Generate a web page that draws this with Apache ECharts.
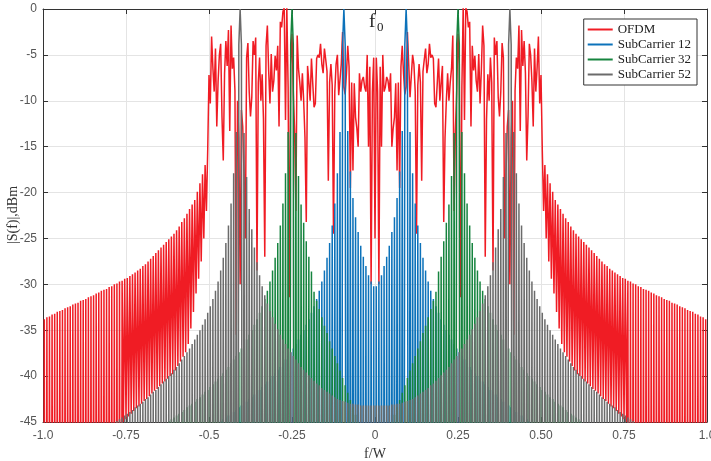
<!DOCTYPE html>
<html>
<head>
<meta charset="utf-8">
<title>OFDM spectrum</title>
<script src="https://cdn.jsdelivr.net/npm/echarts@6.0.0/dist/echarts.min.js"></script>
<style>
  html, body { margin: 0; padding: 0; background: #fff; }
  #chart { width: 711px; height: 461px; }
</style>
</head>
<body>
<div id="chart"></div>
<script>
// Level used for nulls and lobes that fall far below the -45 dBm floor.
const D = -120;

// Frequency grid: 1/256 of W per sample over the left half (f = -1 .. 0);
// the spectrum of the real signal is even, so the right half mirrors it.
const xTickLabels = ['-1.0', '-0.75', '-0.5', '-0.25', '0', '0.25', '0.50', '0.75', '1.0'];
const seriesNames = ['OFDM', 'SubCarrier 12', 'SubCarrier 32', 'SubCarrier 52'];
const subcarrierBins = [12, 32, 52];

// OFDM skirt outside the band (f = -1 .. -0.5): lobe tops and the samples between them.
const ofdmSkirtPeaks = [
  -33.8, -33.6, -33.5, -33.3, -33.2, -33.0, -32.9, -32.8, -32.6, -32.5,
  -32.4, -32.2, -32.1, -32.0, -31.8, -31.7, -31.6, -31.4, -31.3, -31.2,
  -31.0, -30.9, -30.7, -30.6, -30.5, -30.3, -30.2, -30.0, -29.9, -29.7,
  -29.6, -29.4, -29.3, -29.1, -28.9, -28.7, -28.5, -28.3, -28.0, -27.8,
  -27.5, -27.2, -26.9, -26.6, -26.3, -26.0, -25.7, -25.4, -25.1, -24.8,
  -24.5, -24.1, -23.7, -23.2, -22.8, -22.3, -21.8, -21.3, -20.8, -19.9,
  -19.0, -18.0, -17.0, -15.4
];
const ofdmSkirtNulls = [
  D, D, D, D, D, D, D, D, D, D, D, D, D, D, D, D, D, D, D, D,
  D, D, D, D, D, D, D, D, D, D, D,
  -45.0, -44.7, -44.4, -44.1, -43.8, -43.5, -43.3, -43.0, -42.7, -42.5,
  -42.2, -41.9, -41.6, -41.4, -41.1, -40.8, -40.6, -40.3, -40.0, -39.8,
  -39.4, -38.9, -38.4, -37.9, -37.4, -36.5, -34.8, -33.0, -31.0, -29.4,
  -27.5, -25.0, -22.0
];
// OFDM inside the band, f = -0.5 .. 0.
const ofdmBand = [
  -7.2, -10.3, -3.0, -6.4, -9.0, -4.3, -12.8, -7.9, -5.0, -3.8,
  -11.7, -16.5, -7.0, -3.5, -6.2, -2.3, -13.3, -1.8, -6.5, -5.3,
  -8.9, -35.5, -10.0, -14.0, -30.0, -11.0, -12.8, -18.0, -25.0, -5.3,
  -3.7, -9.0, -11.7, -9.6, -3.5, -5.0, -3.1, -28.5, -8.0, -5.3,
  -10.0, -7.1, -12.0, -27.0, -4.0, -1.8, -6.7, -10.3, -4.9, -9.0,
  -7.8, -5.1, -6.7, -4.0, -12.8, -1.4, -2.0, -0.3, 0.2, -12.1,
  0.3, -8.5, -31.4, -6.0, -2.7, -9.0, -13.2, -22.0, -2.9, -6.5,
  -8.0, -10.0, -7.0, -10.0, -14.0, -23.2, -6.2, -8.0, -10.0, -5.4,
  -8.1, -10.7, -10.3, -5.4, -5.0, -5.3, -3.8, -6.0, -7.0, -4.3,
  -5.5, -6.8, -18.7, -8.0, -6.0, -8.3, -24.5, -9.0, -6.0, -5.0,
  -9.4, -9.6, -6.0, -2.5, -8.5, -9.3, -7.0, -4.0, -6.3, -19.5,
  -8.0, -17.6, -8.1, -11.8, -13.0, -15.0, -7.0, -9.0, -7.8, -7.4,
  -8.5, -9.0, -5.0, -15.0, -6.3, -30.0, -9.0, -5.3, -25.0
];

// Lobe tops of each subcarrier, one per 1/128 from f = -1 to 0.
const sc12Lobes = [
  D, D, D, D, D, D, D, D, D, D, D, D, D, D, D, D, D, D, D, D,
  D, D, D, D, D, D, D, D, D, D, D, D, D, D, D, D, D, D, D, D,
  D, D, D, D, D, D, D, D, D, D, D, D, D, D, D, D, D, D, D, D,
  D, D, D, D, D,
  -45.5, -45.3, -45.1, -44.9, -44.7, -44.5, -44.3, -44.1, -43.9, -43.7,
  -43.4, -43.2, -43.0, -42.8, -42.5, -42.3, -42.0, -41.7, -41.5, -41.2,
  -40.9, -40.6, -40.3, -40.0, -39.7, -39.3, -39.0, -38.6, -38.2, -37.8,
  -37.4, -37.0, -36.5, -36.0, -35.5, -35.0, -34.4, -33.8, -33.1, -32.4,
  -31.6, -30.7, -29.7, -28.5, -27.1, -25.5, -23.6, -21.2, -17.9, -13.4,
  -3.9, -3.9,
  -13.3, -17.7, -20.6, -22.7, -24.3, -25.8, -27.0, -28.0, -29.0, -29.7, -30.2
];
const sc32Lobes = [
  D, D, D, D, D, D, D, D, D, D, D, D, D, D, D, D, D, D, D, D,
  D, D, D, D, D, D, D, D, D, D, D, D, D, D, D, D, D, D, D, D,
  D, D, D, D, D,
  -45.5, -45.3, -45.1, -44.9, -44.7, -44.5, -44.3, -44.1, -43.9, -43.7,
  -43.4, -43.2, -43.0, -42.8, -42.5, -42.3, -42.0, -41.7, -41.5, -41.2,
  -40.9, -40.6, -40.3, -40.0, -39.7, -39.3, -39.0, -38.6, -38.2, -37.8,
  -37.4, -37.0, -36.5, -36.0, -35.5, -35.0, -34.4, -33.8, -33.1, -32.4,
  -31.6, -30.7, -29.7, -28.5, -27.1, -25.5, -23.6, -21.2, -17.9, -13.4,
  -3.9, -3.9,
  -13.5, -18.2, -21.3, -23.3, -25.3, -27.0, -28.6, -30.8, -31.8, -32.7,
  -33.6, -34.5, -35.3, -36.2, -37.0, -37.8, -38.6, -39.4, -40.2, -41.0,
  -41.8, -42.6, -43.4, -44.2, -45.0, -45.8, -46.6, -47.5, -48.5, -50.0, -52.0
];
const sc52Lobes = [
  D, D, D, D, D, D, D, D, D, D, D, D, D, D, D, D, D, D, D, D,
  D, D, D, D, D,
  -45.5, -45.3, -45.1, -44.9, -44.7, -44.5, -44.3, -44.1, -43.9, -43.7,
  -43.4, -43.2, -43.0, -42.8, -42.5, -42.3, -42.0, -41.7, -41.5, -41.2,
  -40.9, -40.6, -40.3, -40.0, -39.7, -39.3, -39.0, -38.6, -38.2, -37.8,
  -37.4, -37.0, -36.5, -36.0, -35.5, -35.0, -34.4, -33.8, -33.1, -32.4,
  -31.6, -30.7, -29.7, -28.5, -27.1, -25.5, -23.6, -21.2, -17.9, -13.4,
  -3.9, -3.9,
  -13.5, -18.3, -21.8, -24.0, -26.0, -27.6, -29.0, -30.2, -31.2, -32.1,
  -32.9, -33.6, -34.3, -34.9, -35.5, -36.0, -36.5, -37.0, -37.4, -37.8,
  -38.2, -38.6, -39.0, -39.3, -39.6, -39.9, -40.2, -40.5, -40.8, -41.0,
  -41.3, -41.5, -41.7, -41.9, -42.1, -42.3, -42.5, -42.6, -42.7, -42.8,
  -42.9, -43.0, -43.0, -43.1, -43.1, -43.2, -43.2, -43.2, -43.2, -43.2, -43.2
];

// Build [f, dB] pairs over the left half, then reflect them onto f > 0.
function mirror(left) {
  const right = left.slice(0, -1).reverse().map(([f, v]) => [-f, v]);
  return left.concat(right);
}
function ofdmPoints() {
  const left = [];
  for (let k = 0; k <= 256; k++) {
    let v;
    if (k < 128) v = (k % 2) ? ofdmSkirtPeaks[(k - 1) / 2] : ofdmSkirtNulls[k / 2];
    else v = ofdmBand[k - 128];
    left.push([-1 + k / 256, v]);
  }
  return mirror(left);
}
function subcarrierPoints(lobes, bin) {
  const mainK = 256 - 2 * bin;
  const left = [];
  for (let k = 0; k <= 256; k++) {
    let v;
    if (k % 2) v = lobes[(k - 1) / 2];
    else v = (k === mainK) ? 0 : D;
    left.push([-1 + k / 256, v]);
  }
  return mirror(left);
}

const colors = ['#f01c24', '#0c72ba', '#16843f', '#6b6b6b'];
const lobeSets = [sc12Lobes, sc32Lobes, sc52Lobes];
const dataSets = [ofdmPoints()].concat(lobeSets.map((l, i) => subcarrierPoints(l, subcarrierBins[i])));

const sans = 'Arial, "Liberation Sans", Helvetica, sans-serif';
const serif = '"Times New Roman", "Liberation Serif", serif';
const axisColor = '#333333';

const chart = echarts.init(document.getElementById('chart'), null, { renderer: 'canvas' });
chart.setOption({
  animation: false,
  backgroundColor: '#ffffff',
  grid: { left: 43, right: 4, top: 9, bottom: 39, containLabel: false, outerBoundsMode: 'none' },
  legend: {
    data: seriesNames,
    orient: 'vertical',
    right: 14,
    top: 19,
    icon: 'rect',
    itemWidth: 25,
    itemHeight: 2,
    itemGap: 2,
    padding: [4, 6, 4, 4],
    borderColor: axisColor,
    borderWidth: 1,
    borderRadius: 0,
    backgroundColor: '#ffffff',
    textStyle: { fontFamily: serif, fontSize: 13, color: '#222', lineHeight: 13 }
  },
  xAxis: [
    {
      type: 'value', min: -1, max: 1, interval: 0.25,
      name: 'f/W', nameLocation: 'middle', nameGap: 23,
      nameTextStyle: { fontFamily: serif, fontSize: 14, color: '#333' },
      axisLine: { show: true, onZero: false, lineStyle: { color: axisColor, width: 1 } },
      axisTick: { show: true, inside: true, length: 5, lineStyle: { color: axisColor } },
      axisLabel: {
        margin: 8, fontFamily: sans, fontSize: 12, color: '#555',
        formatter: (v) => xTickLabels[Math.round((v + 1) / 0.25)]
      },
      splitLine: { show: true, lineStyle: { color: '#e4e4e4', width: 1 } }
    },
    {
      type: 'value', min: -1, max: 1, interval: 0.25, position: 'top',
      axisLine: { show: true, onZero: false, lineStyle: { color: axisColor, width: 1 } },
      axisTick: { show: true, inside: true, length: 5, lineStyle: { color: axisColor } },
      axisLabel: { show: false },
      splitLine: { show: false }
    }
  ],
  yAxis: [
    {
      type: 'value', min: -45, max: 0, interval: 5,
      axisLine: { show: true, onZero: false, lineStyle: { color: axisColor, width: 1 } },
      axisTick: { show: true, inside: true, length: 5, lineStyle: { color: axisColor } },
      axisLabel: { margin: 6, fontFamily: sans, fontSize: 12, color: '#555' },
      splitLine: { show: true, lineStyle: { color: '#e4e4e4', width: 1 } }
    },
    {
      type: 'value', min: -45, max: 0, interval: 5, position: 'right',
      axisLine: { show: true, onZero: false, lineStyle: { color: axisColor, width: 1 } },
      axisTick: { show: true, inside: true, length: 5, lineStyle: { color: axisColor } },
      axisLabel: { show: false },
      splitLine: { show: false }
    }
  ],
  graphic: [
    // vertical axis title
    { type: 'text', x: 13, y: 215, rotation: Math.PI / 2, z: 100,
      style: { text: '|S(f)|,dBm', font: '14px ' + serif, fill: '#333',
               align: 'center', verticalAlign: 'middle' } },
    // centre-frequency marker f0
    { type: 'text', left: 369, top: 13, z: 100,
      style: { text: 'f', font: '19px ' + serif, fill: '#222' } },
    { type: 'text', left: 377, top: 21, z: 100,
      style: { text: '0', font: '13px ' + serif, fill: '#222' } }
  ],
  series: dataSets.map((data, i) => ({
    name: seriesNames[i],
    type: 'line',
    data: data,
    xAxisIndex: 0,
    yAxisIndex: 0,
    showSymbol: false,
    symbol: 'none',
    clip: true,
    silent: true,
    color: colors[i],
    lineStyle: { color: colors[i], width: 1.5 },
    z: 2 + i
  }))
});
</script>
</body>
</html>
